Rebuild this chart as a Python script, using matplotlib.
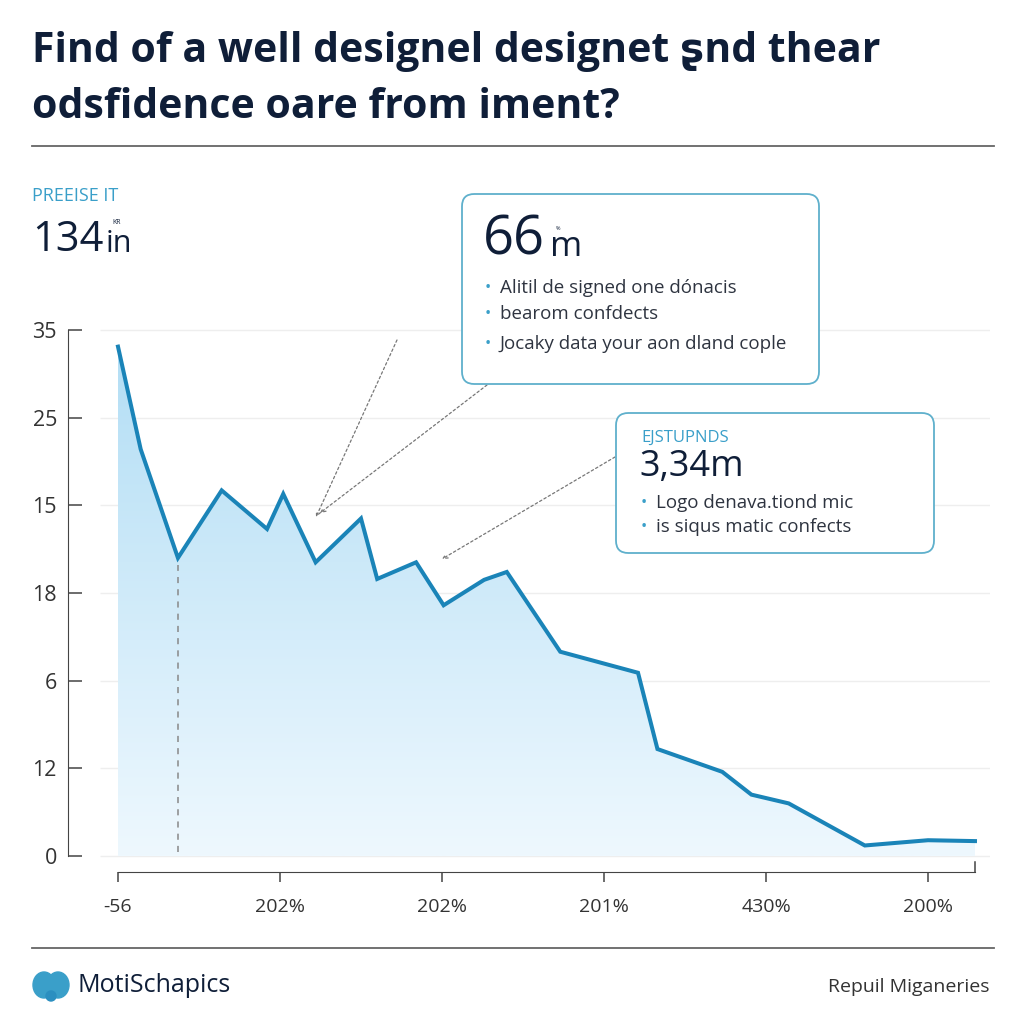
import numpy as np
import matplotlib
matplotlib.use("Agg")
import matplotlib.pyplot as plt
from matplotlib.patches import FancyBboxPatch, Ellipse
from matplotlib.colors import LinearSegmentedColormap

plt.rcParams['font.family'] = ['Open Sans', 'DejaVu Sans']

# ---- data (x in tick-slot units, y in tick-slot units) ----
x_vals = [0.0, 0.14, 0.37, 0.64, 0.92, 1.02, 1.22, 1.50, 1.60, 1.84, 2.01,
          2.26, 2.40, 2.73, 3.21, 3.33, 3.73, 3.91, 4.14, 4.61, 5.00, 5.29]
y_vals = [5.81, 4.64, 3.40, 4.17, 3.73, 4.13, 3.35, 3.85, 3.16, 3.35, 2.86,
          3.15, 3.24, 2.33, 2.09, 1.22, 0.96, 0.70, 0.60, 0.12, 0.18, 0.17]
y_tick_labels = ['0', '12', '6', '18', '15', '25', '35']
x_tick_labels = ['-56', '202%', '202%', '201%', '430%', '200%']
marker_x = 0.37

NAVY = '#0f1e38'
TEAL = '#3a9fc9'
LINE = '#1a84b8'
GREY = '#2e3440'

W = 1024.0
def fx(x): return x / W
def fy(y): return 1 - y / W

fig = plt.figure(figsize=(10.24, 10.24), dpi=100)
fig.patch.set_facecolor('white')

# ---- header ----
fig.text(fx(32), fy(52), 'Find of a well designel designet \u0282nd thear',
         fontsize=29.5, fontweight='bold', color=NAVY, va='center', ha='left')
fig.text(fx(32), fy(108), 'odsfidence oare from iment?',
         fontsize=29.5, fontweight='bold', color=NAVY, va='center', ha='left')
fig.add_artist(plt.Line2D([fx(32), fx(994)], [fy(146), fy(146)], color='#666666', lw=1.3))

fig.text(fx(32), fy(196), 'PREEISE IT', fontsize=13, color=TEAL, va='center')
fig.text(fx(32), fy(240), '134', fontsize=30, color=NAVY, va='center')
fig.text(fx(106), fy(244), 'in', fontsize=22, color=NAVY, va='center')
fig.text(fx(112), fy(222), 'KR', fontsize=5, color=NAVY, va='center')

# ---- main axes ----
ax = fig.add_axes([fx(68), fy(872), (990 - 68) / W, (872 - 325) / W])
x0 = -50 / 162.0
ax.set_xlim(x0, x0 + (990 - 68) / 162.0)
ax.set_ylim(-16 / 87.67, -16 / 87.67 + (872 - 325) / 87.67)

xs = np.array(x_vals)
ys = np.array(y_vals)

# gradient fill under the line
cmap = LinearSegmentedColormap.from_list('fill', ['#eef8fe', '#b3def5'])
grad = np.linspace(0, 1, 256).reshape(-1, 1)
img = ax.imshow(grad, cmap=cmap, origin='lower', aspect='auto',
                extent=[xs[0], xs[-1], 0, ys.max()], zorder=1)
poly = ax.fill_between(xs, ys, 0, color='none', lw=0)
clip = poly.get_paths()[0]
img.set_clip_path(clip, transform=ax.transData)

ax.plot(xs, ys, color=LINE, lw=2.9, zorder=3, solid_joinstyle='miter')
ax.vlines(marker_x, 0.05, np.interp(marker_x, xs, ys) - 0.08,
          colors='#888888', lw=1.1, linestyles=(0, (4, 4)), zorder=2)

# gridlines
ax.hlines(range(len(y_tick_labels)), -0.11, x0 + (990 - 68) / 162.0,
          colors='#eeeeee', lw=1, zorder=0)

for s in ['top', 'right']:
    ax.spines[s].set_visible(False)
ax.spines['left'].set_bounds(0, 6)
ax.spines['left'].set_color('#444444')
ax.spines['bottom'].set_bounds(0, xs[-1])
ax.spines['bottom'].set_color('#444444')
ax.set_yticks(range(len(y_tick_labels)))
ax.set_yticklabels(y_tick_labels)
ax.set_xticks(range(len(x_tick_labels)))
ax.set_xticklabels(x_tick_labels)
ax.tick_params(axis='y', direction='in', length=10, width=1.1, color='#444444',
               labelsize=15.5, labelcolor='#333333', pad=8)
ax.tick_params(axis='x', direction='out', length=7, width=1.1, color='#444444',
               labelsize=14, labelcolor='#333333', pad=12)
ax.plot([xs[-1], xs[-1]], [-16 / 87.67, -6 / 87.67], color='#444444', lw=1.1,
        clip_on=False)

# ---- callout boxes ----
def box(x1, y1, x2, y2):
    p = FancyBboxPatch((fx(x1), fy(y2)), (x2 - x1) / W, (y2 - y1) / W,
                       boxstyle='round,pad=0,rounding_size=0.012',
                       transform=fig.transFigure, facecolor='white',
                       edgecolor='#5fb0cc', lw=1.3, zorder=5)
    fig.add_artist(p)

box(462, 194, 819, 384)
fig.text(fx(483), fy(240), '66', fontsize=39, color=NAVY, va='center', zorder=6)
fig.text(fx(550), fy(247), 'm', fontsize=25, color=NAVY, va='center', zorder=6)
fig.text(fx(556), fy(229), '%', fontsize=4, color=NAVY, va='center', zorder=6)
for yy, t in [(288, 'Alitil de signed one dónacis'),
              (314, 'bearom confdects'),
              (344, 'Jocaky data your aon dland cople')]:
    fig.text(fx(485), fy(yy), '•', fontsize=12, color=TEAL, va='center', zorder=6)
    fig.text(fx(500), fy(yy), t, fontsize=13.5, color=GREY, va='center', zorder=6)

box(616, 413, 934, 553)
fig.text(fx(641), fy(438), 'EJSTUPNDS', fontsize=12, color=TEAL, va='center', zorder=6)
fig.text(fx(639), fy(467), '3,34m', fontsize=26, color=NAVY, va='center', zorder=6)
for yy, t in [(503, 'Logo denava.tiond mic'),
              (527, 'is siqus matic confects')]:
    fig.text(fx(641), fy(yy), '•', fontsize=12, color=TEAL, va='center', zorder=6)
    fig.text(fx(656), fy(yy), t, fontsize=13.5, color=GREY, va='center', zorder=6)

# ---- dotted pointers ----
arrow_kw = dict(arrowstyle='->', lw=0.9, color='#777777', ls=(0, (2, 2)),
                shrinkA=0, shrinkB=0, mutation_scale=8)
for (tx, ty), (hx, hy) in [((397, 340), (316, 517)),
                           ((487, 385), (320, 513)),
                           ((615, 457), (442, 559))]:
    ax.annotate('', xy=(hx, W - hy), xycoords='figure pixels',
                xytext=(tx, W - ty), textcoords='figure pixels',
                arrowprops=arrow_kw, annotation_clip=False)

# ---- footer ----
fig.add_artist(plt.Line2D([fx(32), fx(994)], [fy(948), fy(948)], color='#666666', lw=1.3))
fig.add_artist(Ellipse((fx(44), fy(985)), 22 / W, 26 / W, color=TEAL))
fig.add_artist(Ellipse((fx(58), fy(985)), 22 / W, 26 / W, color=TEAL))
fig.add_artist(Ellipse((fx(51), fy(996)), 10 / W, 10 / W, color='#2b8fc0'))
fig.text(fx(77), fy(985), 'MotiSchapics', fontsize=18, color=NAVY, va='center')
fig.text(fx(990), fy(987), 'Repuil Miganeries', fontsize=14, color='#333333',
         va='center', ha='right')

fig.savefig('out.png', dpi=100)
